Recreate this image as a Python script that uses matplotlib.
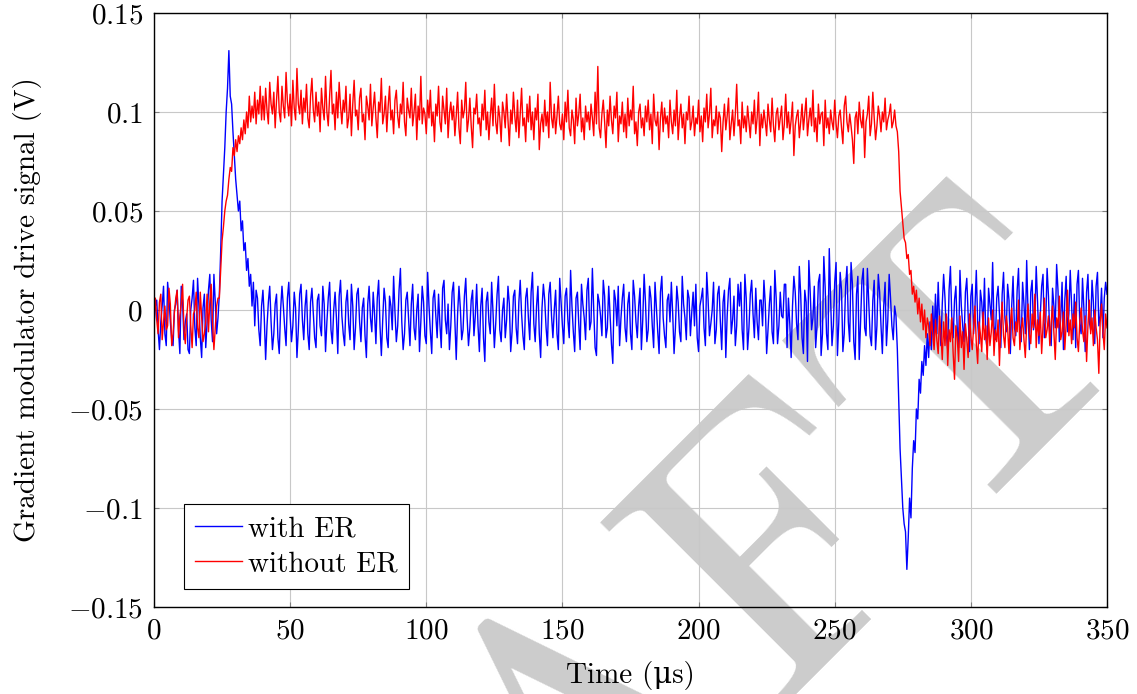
import numpy as np
import matplotlib
matplotlib.use("Agg")
import matplotlib.pyplot as plt
from matplotlib.ticker import FuncFormatter

# scope trace, 2 samples per microsecond, in mV
with_er_mv = [
    # 0 - 23.5 us
    -8, 2, 5, -10, -20, -6, 2, 12, -12, -18, 14, 6, -6, -15, -18, 0, 3, 10, -10, -22,
    12, 4, -15, -6, -2, -20, -22, 0, 6, 15, -9, -18, 16, 2, -14, -24, 1, 8, -19, -6,
    10, 18, -5, -16, 18, 4, -12, -4,
    # 24 - 37.5 us, overshoot
    8, 30, 55, 68, 82, 100, 112, 131, 108, 104, 90, 78, 66, 58, 50, 55, 40, 45, 30, 34,
    20, 26, 12, 18, 2, 14, -8, 10,
    # 38 - 272.5 us
    6, -10, -18, 2, 10, -4, -25, -8, 4, 12, -6, -20, -12, 3, 8, -14, -22, 0, 12, 2,
    -9, -18, 6, 14, -3, -16, -8, 9, 1, -24, -10, 8, 13, -5, -15, 2, 10, -12, -20, 4,
    11, -2, -14, -19, 5, 8, -8, -13, 12, 3, -21, -6, 6, 14, -10, -17, 0, 9, -4, -22,
    7, 15, -3, -12, -18, 4, 10, -7, -15, 13, 2, -20, -9, 8, 11, -6, -16, 1, 6, -13,
    -24, 3, 12, -4, -11, 9, -2, -17, 6, 15, -8, -23, -5, 11, 4, -14, -19, 7, 2, -10,
    17, -1, -16, -8, 10, 21, -6, -20, -12, 5, 9, -4, -18, 3, 13, -9, -15, 0, 8, -21,
    -6, 12, 4, -13, -17, 19, 2, -11, -22, 6, 10, -3, -14, 8, -7, -19, 11, 15, -5, -12,
    3, -20, -8, 9, 14, -6, -25, -2, 12, 1, -15, -10, 7, 16, -4, -18, -9, 5, 10, -13,
    -3, 13, -8, -21, 2, 11, -14, -26, 4, 9, -6, -12, 14, -1, -19, -7, 8, 17, -10, -16,
    0, 6, -14, -5, 12, 3, -21, -11, 7, 10, -9, -17, 4, 15, -2, -13, -20, 6, 11, -4,
    -15, 9, 19, -7, -16, 2, 12, -12, -24, 1, 13, 5, -9, -18, 8, 14, -3, -14, 0, 10,
    -12, -20, 16, 4, -8, -17, 7, 11, -5, -14, 20, 2, -11, -21, 6, 9, -7, -20, 13, 3,
    -4, -15, 10, 16, -10, -6, 21, 0, -19, -23, 8, 4, -3, -13, 15, 7, -14, -9, 12, -2,
    -17, -27, 10, 5, -8, 12, -18, -4, 6, 13, -9, -16, 3, 9, -12, -20, 15, 7, -6, -14,
    2, 11, -20, -5, 18, 4, -16, -10, 12, 6, -8, -19, 14, 1, -11, -22, 9, 17, -4, -13,
    -19, 5, 8, -6, 14, -2, -22, -9, 12, 4, -11, -16, 17, 3, -4, -15, 10, 6, -13, -1,
    9, -8, 13, -14, -21, 2, 6, 11, -9, -18, 19, 5, -13, -7, 0, 14, -17, -10, 8, 12,
    -6, -20, 4, 10, -24, -3, 10, 16, -12, -5, 7, -18, -8, 13, 2, 14, -10, -20, 18, 6,
    -20, -9, 8, 15, -2, -14, 11, -6, -15, 5, 5, -8, 15, 3, -22, -10, 3, 12, -11, -17,
    20, 6, -17, -8, 9, -3, -4, 13, 13, -19, 6, -7, -24, 2, 17, 9, -7, -15, 22, 8,
    -14, -22, 10, 4, -26, 25, 9, -10, -4, 12, -19, -8, 14, 18, -23, -12, 27, 11, -12, -20,
    31, 5, -18, -8, 14, 24, -23, -6, 19, 10, -21, -12, 12, 22, -6, -16, 24, 13, -16, -25,
    8, 17, -25, -6, 15, 21, -9, -13, 21, 4, -13, -18, 5, 15, -20, -8, 18, 9, -8, -22,
    2, 14, -18, -5, 18, 6, -8, -15, 2, -3,
    # 273 - 287.5 us, undershoot
    -20, -45, -70, -85, -100, -108, -112, -131, -115, -95, -105, -80, -66, -72, -50, -55,
    -35, -42, -26, -33, -18, -28, -12, -24, -6, -20, 2, -16, 8, -12,
    # 288 - 350 us
    14, -6, -18, 3, 18, 6, -12, -20, 10, 22, -4, -14, 5, 12, -10, -19, 20, 2, -8, -16,
    9, 16, -3, -21, 7, 13, -12, 1, 20, -6, -17, 10, 4, -9, 16, -14, -20, 11, 3, -5,
    24, -8, -15, 6, 12, -2, -19, 8, 19, -4, -11, 13, 5, -22, 2, 17, -9, -13, 10, 21,
    -7, -16, 14, 3, -12, 25, -1, -20, 9, 15, -10, -5, 22, 4, -17, -3, 12, 18, -14, -6,
    21, 7, -13, -18, 11, 2, -9, 23, 10, -16, -4, 14, -20, 5, 17, -11, -2, 20, 3, -15,
    8, -19, 13, 20, -7, -12, 16, 1, -21, 9, 18, -6, -10, 15, 4, -17, 12, 19, -8, -3,
    11, -14, 6, 14, 8,
]

without_er_mv = [
    # 0 - 23.5 us
    -3, 6, -5, -12, 4, 8, -15, -6, 2, -10, -8, 11, 3, -18, -12, -1, 6, 10, -14, -3,
    3, 13, -10, -17, -4, 5, 7, -8, -19, -2, 0, 9, -9, -14, 9, -4, -16, -12, -6, 8,
    -11, 4, 13, -7, -20, -9, 2, 6,
    # 24 - 39.5 us, rise
    6, 20, 35, 42, 50, 55, 58, 66, 72, 70, 82, 78, 86, 80, 88, 84, 92, 86, 96, 89,
    100, 92, 108, 95, 103, 97, 110, 94, 106, 99, 113, 96,
    # 40 - 272.5 us
    108, 96, 112, 101, 94, 115, 104, 99, 110, 92, 106, 118, 100, 95, 113, 103, 97, 120, 105, 98,
    109, 93, 116, 102, 96, 122, 104, 99, 111, 94, 107, 100, 114, 97, 92, 108, 117, 101, 95, 110,
    98, 105, 90, 112, 102, 96, 118, 100, 93, 108, 121, 99, 104, 91, 110, 97, 115, 103, 94, 106,
    100, 113, 92, 97, 109, 88, 104, 116, 98, 101, 91, 107, 112, 95, 99, 86, 108, 103, 96, 114,
    93, 102, 110, 97, 87, 105, 100, 117, 94, 99, 108, 90, 103, 113, 96, 101, 89, 106, 111, 98,
    92, 104, 99, 115, 95, 88, 107, 101, 97, 112, 93, 100, 109, 86, 103, 96, 118, 94, 102, 99,
    89, 106, 97, 111, 93, 100, 85, 104, 98, 113, 95, 90, 108, 101, 94, 112, 87, 99, 105, 96,
    103, 88, 98, 110, 92, 84, 106, 97, 101, 115, 90, 96, 107, 93, 82, 102, 99, 109, 94, 97,
    88, 104, 96, 111, 91, 100, 86, 98, 107, 93, 114, 95, 89, 103, 97, 85, 105, 100, 92, 109,
    96, 83, 101, 94, 110, 98, 90, 106, 87, 99, 112, 93, 97, 85, 104, 95, 108, 91, 100, 86,
    102, 96, 109, 81, 94, 99, 90, 106, 93, 100, 87, 115, 97, 92, 104, 89, 98, 108, 94, 91,
    99, 86, 105, 95, 111, 92, 88, 101, 96, 84, 107, 93, 99, 109, 90, 97, 86, 103, 95, 100,
    91, 104, 97, 88, 110, 94, 123, 92, 87, 99, 106, 95, 82, 101, 93, 108, 96, 89, 103, 97,
    110, 85, 98, 94, 105, 90, 99, 87, 107, 93, 101, 96, 113, 89, 95, 83, 100, 104, 92, 97,
    88, 103, 95, 106, 91, 99, 84, 109, 96, 93, 100, 81, 97, 105, 90, 102, 94, 98, 87, 106,
    95, 89, 101, 93, 111, 86, 97, 104, 92, 99, 84, 100, 96, 108, 91, 95, 103, 88, 97, 94,
    106, 90, 98, 85, 102, 95, 109, 92, 99, 112, 87, 96, 93, 103, 89, 100, 97, 80, 95, 104,
    91, 98, 107, 86, 94, 101, 88, 99, 114, 93, 96, 84, 105, 92, 98, 90, 103, 95, 87, 100,
    94, 106, 89, 97, 110, 83, 99, 92, 101, 95, 88, 104, 96, 90, 107, 93, 85, 99, 102, 91,
    97, 103, 86, 94, 109, 92, 100, 89, 96, 105, 78, 93, 98, 101, 87, 95, 104, 91, 99, 107,
    88, 96, 102, 93, 111, 90, 97, 85, 104, 94, 99, 100, 83, 106, 92, 97, 89, 101, 95, 91,
    106, 94, 87, 98, 101, 92, 84, 103, 108, 95, 90, 99, 93, 86, 74, 97, 100, 89, 105, 96,
    92, 101, 77, 95, 99, 108, 88, 94, 110, 97, 86, 93, 103, 98, 90, 100, 95, 107, 91, 96,
    99, 104, 92, 95, 101, 93,
    # 273 - 288.5 us, fall
    90, 80, 60, 52, 44, 36, 34, 26, 28, 18, 20, 8, 12, 4, 10, -2, 6, -6, 3, -10,
    0, -14, -4, -8, -18, -2, -12, -20, -5, -15, -22, -3,
    # 289 - 350 us
    -12, -25, -6, -18, -2, -28, -10, -16, -4, -22, -35, -8, -14, -26, -3, -19, -11, -30, -7, -15,
    -24, -2, -13, -20, -9, 2, -17, -27, -6, -12, -21, -1, -15, -8, -25, -4, -18, -11, 0, -23,
    -10, -16, -5, -28, -8, 4, -13, -19, -3, -9, -22, -7, 1, -14, -18, -6, -11, 5, -20, -10,
    -4, -15, -24, -7, 3, -12, -17, -2, -9, 8, -19, -5, -13, -1, -22, -8, 6, -14, -10, -3,
    -18, -6, 2, -12, -25, -4, -9, 7, -15, -11, -1, -20, -7, 10, -13, -5, -17, -2, -9, 4,
    -14, -21, -6, 1, -10, -16, -3, -26, -8, 5, -12, -4, -18, 0, -9, -15, -32, -6, 3, -11,
    -20, -2, -9,
]

t_with = np.arange(len(with_er_mv)) * 0.5
t_without = np.arange(len(without_er_mv)) * 0.5
with_er = np.array(with_er_mv) / 1000.0
without_er = np.array(without_er_mv) / 1000.0

xticks = [0, 50, 100, 150, 200, 250, 300, 350]
yticks = [-0.15, -0.1, -0.05, 0, 0.05, 0.1, 0.15]

plt.rcParams['font.family'] = ['cmr10', 'DejaVu Serif']
plt.rcParams['mathtext.fontset'] = 'cm'
plt.rcParams['axes.unicode_minus'] = False

fig = plt.figure(figsize=(11.37, 6.94), dpi=100)
fig.patch.set_facecolor('white')

# draft watermark, drawn under the axes
fig.text(0.576, -0.186, 'DRAFT', fontsize=274, color='#cccccc',
         rotation=45, rotation_mode='anchor', ha='center', va='baseline',
         zorder=-1)

ax = fig.add_axes([154/1137, 87/694, 953/1137, 594/694])
ax.set_facecolor('none')

ax.plot(t_with, with_er, color='blue', lw=1.0, label='with ER')
ax.plot(t_without, without_er, color='red', lw=1.0, label='without ER')

ax.set_xlim(0, 350)
ax.set_ylim(-0.15, 0.15)
ax.set_xticks(xticks)
ax.set_yticks(yticks)
ax.xaxis.set_major_formatter(FuncFormatter(lambda v, p: '$%g$' % v))
ax.yaxis.set_major_formatter(FuncFormatter(lambda v, p: '$%g$' % round(v, 3)))
ax.tick_params(direction='in', top=True, right=True, length=3.5, width=0.8,
               color='0.5', labelsize=21, pad=8)
ax.grid(True, color='#c8c8c8', lw=0.8)
ax.set_axisbelow(True)
for s in ax.spines.values():
    s.set_linewidth(1.0)

ax.set_xlabel('Time (\u03bcs)', fontsize=21)
ax.set_ylabel('Gradient modulator drive signal (V)', fontsize=21)
ax.xaxis.set_label_coords(0.5, -0.091)
ax.yaxis.set_label_coords(-0.118, 0.5)

leg = ax.legend(loc='lower left', bbox_to_anchor=(0.031, 0.03), borderaxespad=0,
                fancybox=False, framealpha=1, edgecolor='black', fontsize=21,
                handlelength=1.6, handletextpad=0.2, borderpad=0.4, labelspacing=0.3)
leg.get_frame().set_linewidth(0.8)

fig.savefig('out.png', dpi=100)
